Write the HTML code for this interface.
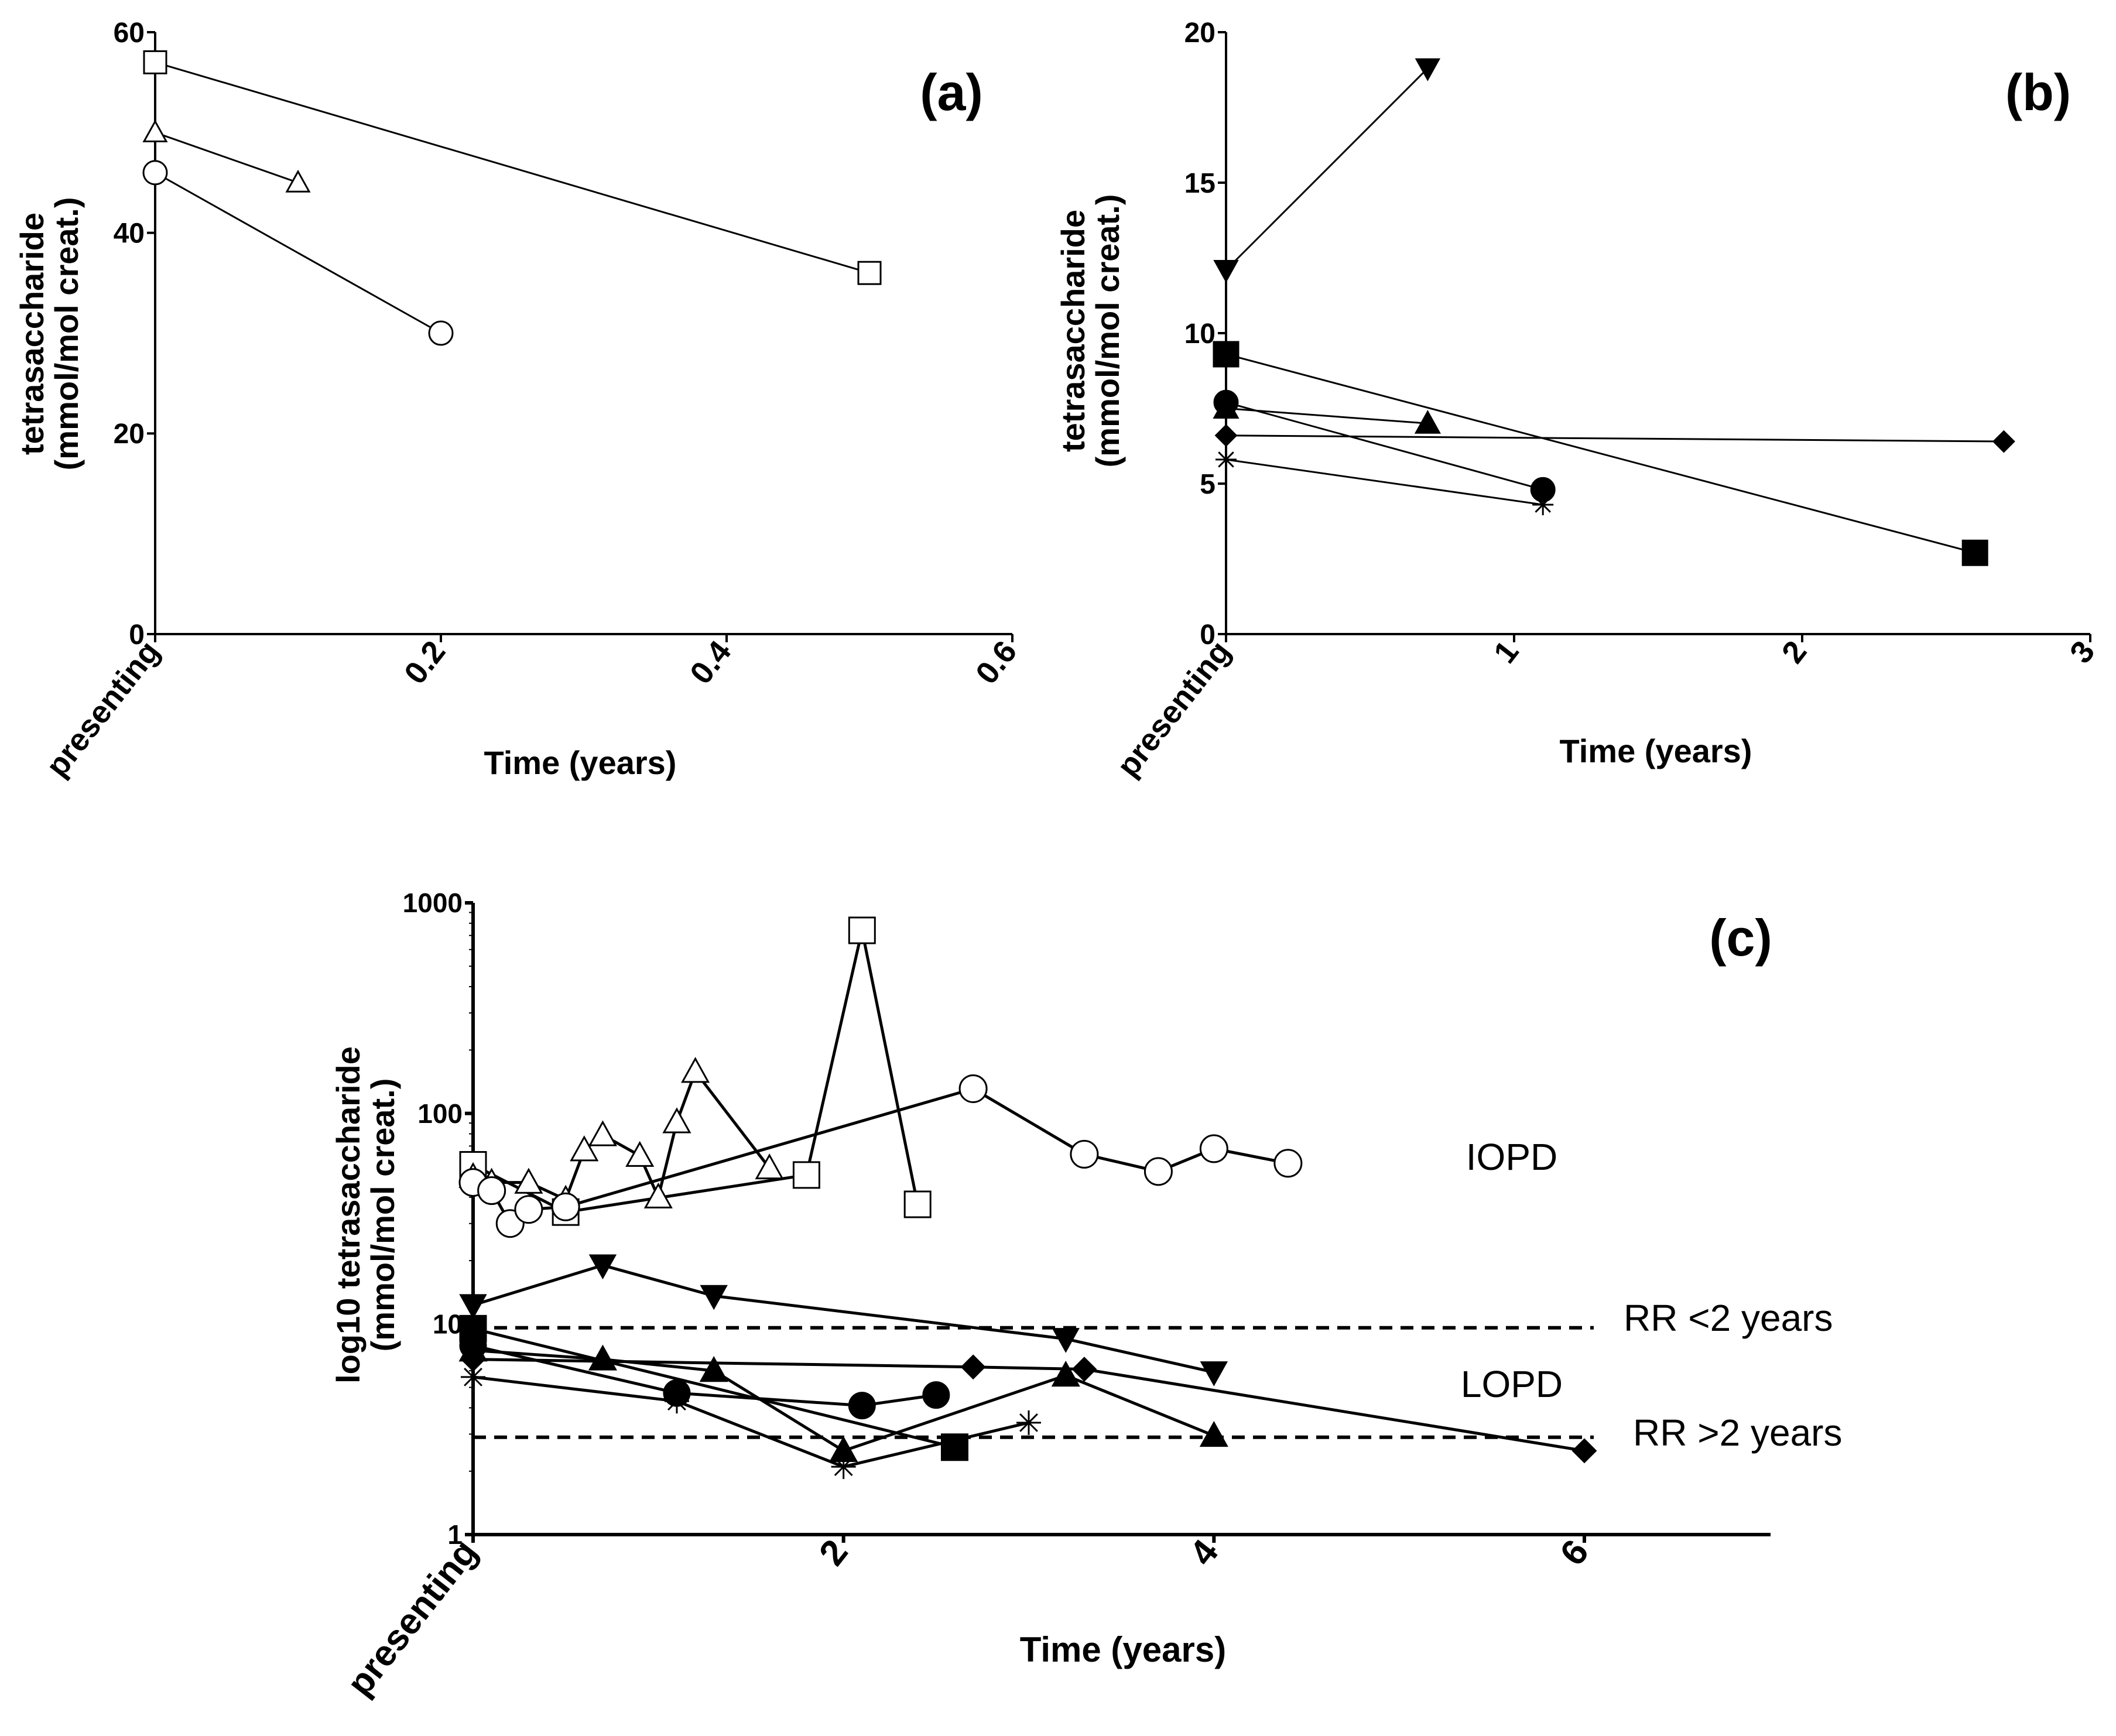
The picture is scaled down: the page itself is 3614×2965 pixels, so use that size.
<!DOCTYPE html>
<html><head><meta charset="utf-8"><style>
html,body{margin:0;padding:0;background:#fff}
svg{display:block}
text{font-family:"Liberation Sans",sans-serif;fill:#000}
</style></head><body>
<svg id="fig" width="3614" height="2965" viewBox="0 0 3614 2965" xmlns="http://www.w3.org/2000/svg"></svg>
<script>
// Panel (a) data
const aSquareX=[0,0.5], aSquareY=[57,36];
const aTriX=[0,0.1], aTriY=[50,45];
const aCircX=[0,0.2], aCircY=[46,30];
const aYTicks=[0,20,40,60];
const aXTicks=[0,0.2,0.4,0.6];
const aXTickLabels=["presenting","0.2","0.4","0.6"];
// Panel (b) data
const bDownX=[0,0.7], bDownY=[12.1,18.8];
const bSqX=[0,2.6], bSqY=[9.3,2.7];
const bCircX=[0,1.1], bCircY=[7.7,4.8];
const bTriX=[0,0.7], bTriY=[7.5,7.0];
const bDiaX=[0,2.7], bDiaY=[6.6,6.4];
const bStarX=[0,1.1], bStarY=[5.8,4.3];
const bYTicks=[0,5,10,15,20];
const bXTicks=[0,1,2,3];
const bXTickLabels=["presenting","1","2","3"];
// Panel (c) data
const cSqX=[0,0.5,1.8,2.1,2.4], cSqY=[57,34,51,740,37];
const cTriX=[0,0.1,0.3,0.5,0.6,0.7,0.9,1.0,1.1,1.2,1.6], cTriY=[50,47,47,39,67,79,63,40,91,158,55];
const cCircX=[0,0.1,0.2,0.3,0.5,2.7,3.3,3.7,4.0,4.4], cCircY=[47,43,30,35,36,131,64,53,68,58];
const cDownX=[0,0.7,1.3,3.2,4.0], cDownY=[12.3,19,13.6,8.5,5.9];
const cDiaX=[0,2.7,3.3,6.0], cDiaY=[6.8,6.25,6.1,2.5];
const cTriFX=[0,0.7,1.3,2.0,3.2,4.0], cTriFY=[7.5,6.8,6.0,2.5,5.7,2.95];
const cCircFX=[0,1.1,2.1,2.5], cCircFY=[7.9,4.7,4.1,4.6];
const cSqFX=[0,2.6], cSqFY=[9.5,2.6];
const cStarX=[0,1.1,2.0,3.0], cStarY=[5.6,4.3,2.1,3.4];
const cRefLines=[9.6,2.9];
const cYTicks=[1,10,100,1000];
const cXTicks=[0,2,4,6];
const cXTickLabels=["presenting","2","4","6"];

const svg=document.getElementById('fig');
const NS="http://www.w3.org/2000/svg";
function mk(tag,attrs,parent){const e=document.createElementNS(NS,tag);for(const k in attrs)e.setAttribute(k,attrs[k]);(parent||svg).appendChild(e);return e;}
function txt(s,attrs,parent){const e=mk('text',attrs,parent);e.textContent=s;return e;}

function marker(g,type,x,y,s){
  let e;
  const h=s/2;
  const filled=type.endsWith('F');
  const fill=filled?'#000':'#fff';
  const t=type.replace('F','');
  if(t==='sq'){e=mk('rect',{x:x-h,y:y-h,width:s,height:s,fill:fill,stroke:'#000','stroke-width':3},g);}
  else if(t==='circ'){e=mk('circle',{cx:x,cy:y,r:h,fill:fill,stroke:'#000','stroke-width':3},g);}
  else if(t==='tri'){e=mk('polygon',{points:`${x},${y-h} ${x-h},${y+h*0.8} ${x+h},${y+h*0.8}`,fill:fill,stroke:'#000','stroke-width':3},g);}
  else if(t==='down'){e=mk('polygon',{points:`${x-h},${y-h*0.8} ${x+h},${y-h*0.8} ${x},${y+h}`,fill:'#000',stroke:'#000','stroke-width':2},g);}
  else if(t==='dia'){e=mk('polygon',{points:`${x},${y-h} ${x+h},${y} ${x},${y+h} ${x-h},${y}`,fill:'#000',stroke:'#000','stroke-width':2},g);}
  else if(t==='star'){e=mk('g',{},g);for(let a=0;a<4;a++){const an=a*Math.PI/4;mk('line',{x1:x-h*Math.cos(an),y1:y-h*Math.sin(an),x2:x+h*Math.cos(an),y2:y+h*Math.sin(an),stroke:'#000','stroke-width':3},e);}}
  
  
  return e;
}

function series(g,name,xs,ys,sx,sy,type,size,lw){
  const sg=mk('g',{},g);
  
  
  const pts=xs.map((v,i)=>sx(v)+','+sy(ys[i])).join(' ');
  const pl=mk('polyline',{points:pts,fill:'none',stroke:'#000','stroke-width':lw},sg);
  
  
  xs.forEach((v,i)=>marker(sg,type,sx(v),sy(ys[i]),size));
}

function axes(g,o){
  const ya=mk('line',{x1:o.x0,y1:o.yTop,x2:o.x0,y2:o.y0,stroke:'#000','stroke-width':o.aw},g);
  
  const xa=mk('line',{x1:o.x0,y1:o.y0,x2:o.xRight,y2:o.y0,stroke:'#000','stroke-width':o.aw},g);
  
  o.yTicks.forEach(v=>{const y=o.sy(v);mk('line',{x1:o.x0-14,y1:y,x2:o.x0,y2:y,stroke:'#000','stroke-width':o.aw},g);
    const t=txt(String(v),{x:o.x0-18,y:y+o.fs*0.35,'text-anchor':'end','font-size':o.fs,'font-weight':'bold'},g);
    });
  if(o.minor){for(let d=1;d<1000;d*=10)for(let k=2;k<10;k++){const y=o.sy(d*k);mk('line',{x1:o.x0-7,y1:y,x2:o.x0,y2:y,stroke:'#000','stroke-width':2},g);}}
  o.xTicks.forEach((v,i)=>{const x=o.sx(v);mk('line',{x1:x,y1:o.y0,x2:x,y2:o.y0+14,stroke:'#000','stroke-width':o.aw},g);
    const t=txt(o.xLabels[i],{x:x+10,y:o.y0+30,'text-anchor':'end','font-size':o.xfs,'font-weight':'bold',transform:`rotate(-52 ${x+10} ${o.y0+30})`},g);
    });
  const xt=txt('Time (years)',{x:o.xtx,y:o.xty,'text-anchor':'middle','font-size':o.tfs,'font-weight':'bold'},g);
  
  const yt=mk('text',{transform:`translate(${o.ytx},${o.yty}) rotate(-90)`,'text-anchor':'middle','font-size':o.yfs,'font-weight':'bold'},g);
  
  const t1=mk('tspan',{x:0,y:0},yt);t1.textContent=o.yl1;
  const t2=mk('tspan',{x:0,y:o.yfs*1.05},yt);t2.textContent='(mmol/mol creat.)';
  const pl=txt(o.panel,{x:o.px,y:o.py,'text-anchor':'middle','font-size':88,'font-weight':'bold'},g);
  
}

// Panel a
{
  const g=mk('g',{});
  const x0=265,y0=1083,yT=55,xR=1729;
  const sx=v=>x0+v/0.6*(xR-x0), sy=v=>y0-v/60*(y0-yT);
  axes(g,{x0,y0,yTop:yT,xRight:xR,sx,sy,yTicks:aYTicks,xTicks:aXTicks,xLabels:aXTickLabels,fs:48,xfs:54,tfs:56,aw:4,
    xtx:991,xty:1322,ytx:74,yty:570,yfs:56,yl1:'tetrasaccharide',panel:'(a)',px:1625,py:188});
  series(g,'series-a-square',aSquareX,aSquareY,sx,sy,'sq',38,3);
  series(g,'series-a-triangle',aTriX,aTriY,sx,sy,'tri',38,3);
  series(g,'series-a-circle',aCircX,aCircY,sx,sy,'circ',40,3);
}
// Panel b
{
  const g=mk('g',{});
  const x0=2094,y0=1083,yT=55,xR=3570;
  const sx=v=>x0+v/3*(xR-x0), sy=v=>y0-v/20*(y0-yT);
  axes(g,{x0,y0,yTop:yT,xRight:xR,sx,sy,yTicks:bYTicks,xTicks:bXTicks,xLabels:bXTickLabels,fs:48,xfs:54,tfs:56,aw:4,
    xtx:2828,xty:1302,ytx:1852,yty:565,yfs:56,yl1:'tetrasaccharide',panel:'(b)',px:3481,py:188});
  series(g,'series-b-down-triangle',bDownX,bDownY,sx,sy,'down',40,3);
  series(g,'series-b-square',bSqX,bSqY,sx,sy,'sqF',42,3);
  series(g,'series-b-circle',bCircX,bCircY,sx,sy,'circF',40,3);
  series(g,'series-b-triangle',bTriX,bTriY,sx,sy,'triF',40,3);
  series(g,'series-b-diamond',bDiaX,bDiaY,sx,sy,'dia',36,3);
  series(g,'series-b-star',bStarX,bStarY,sx,sy,'star',36,3);
}
// Panel c
{
  const g=mk('g',{});
  const x0=808,y0=2621,yT=1542,xR=3024,x6=2706;
  const sx=v=>x0+v/6*(x6-x0), sy=v=>y0-Math.log10(v)/3*(y0-yT);
  axes(g,{x0,y0,yTop:yT,xRight:xR,sx,sy,yTicks:cYTicks,xTicks:cXTicks,xLabels:cXTickLabels,fs:46,xfs:62,tfs:60,aw:6,minor:true,
    xtx:1918,xty:2838,ytx:614,yty:2075,yfs:56,yl1:'log10 tetrasaccharide',panel:'(c)',px:2973,py:1632});
  cRefLines.forEach((v,i)=>{const l=mk('line',{x1:x0,y1:sy(v),x2:2722,y2:sy(v),stroke:'#000','stroke-width':6,'stroke-dasharray':'22 14'},g);
    });
  series(g,'series-c-open-square',cSqX,cSqY,sx,sy,'sq',44,5);
  series(g,'series-c-open-triangle',cTriX,cTriY,sx,sy,'tri',44,5);
  series(g,'series-c-open-circle',cCircX,cCircY,sx,sy,'circ',46,5);
  series(g,'series-c-down-triangle',cDownX,cDownY,sx,sy,'down',44,5);
  series(g,'series-c-diamond',cDiaX,cDiaY,sx,sy,'dia',40,5);
  series(g,'series-c-triangle',cTriFX,cTriFY,sx,sy,'triF',44,5);
  series(g,'series-c-circle',cCircFX,cCircFY,sx,sy,'circF',44,5);
  series(g,'series-c-square',cSqFX,cSqFY,sx,sy,'sqF',44,5);
  series(g,'series-c-star',cStarX,cStarY,sx,sy,'star',42,5);
  const labs=[['IOPD',2582,1998,'middle'],['RR <2 years',2773,2273,'start'],['LOPD',2582,2386,'middle'],['RR >2 years',2789,2469,'start']];
  labs.forEach(l=>{const t=txt(l[0],{x:l[1],y:l[2],'text-anchor':l[3],'font-size':64,'font-family':'Liberation Sans Narrow, Liberation Sans, sans-serif'},g);
    });
}
</script>
</body></html>
